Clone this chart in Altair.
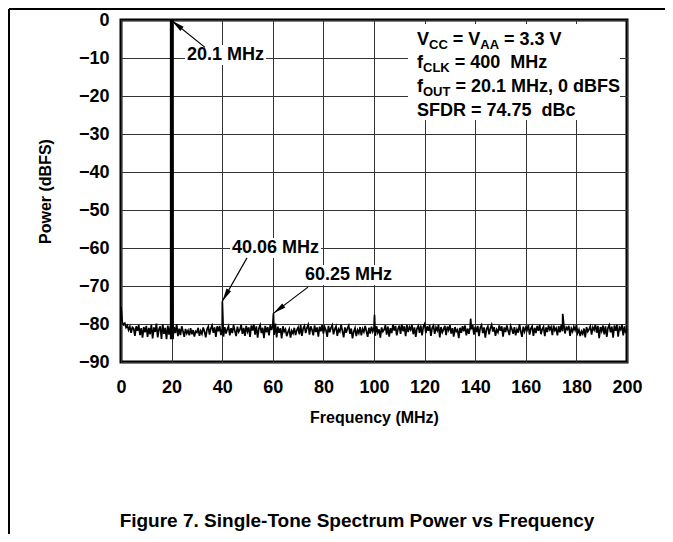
import math
import altair as alt
import pandas as pd

FONT = "Liberation Sans"

# ---------------- data ----------------
noise_step = 0.5  # MHz between noise-floor samples (0 ... 200 MHz)
noise_floor = [
    -75.5, -79.5, -80.2, -79.8, -80.9, -80.4, -81.6, -80.7, -82.3, -80.9, -81.2, -83.1, -80.6, -81.8, -80.3, -82.9, -81.1, -83.6, -80.8, -82.2,
    -80.5, -83.4, -81.0, -82.7, -80.2, -83.8, -80.9, -82.1, -79.9, -83.5, -81.4, -80.6, -83.9, -80.1, -82.6, -81.0, -84.0, -80.4, -82.8, -80.7,
    -80.3, -83.7, -80.8, -82.4, -80.0, -83.2, -81.2, -82.9, -80.6, -81.9, -83.4, -81.3, -82.5, -81.7, -83.0, -81.1, -82.7, -81.6, -83.3, -81.9,
    -82.2, -81.0, -83.1, -81.8, -82.6, -80.9, -82.0, -83.5, -81.4, -80.7, -82.8, -81.2, -80.4, -82.3, -80.9, -83.4, -80.6, -81.9, -80.5, -82.9,
    -81.2, -83.3, -80.8, -82.5, -81.4, -80.6, -83.0, -81.1, -82.4, -80.3, -81.8, -83.2, -80.7, -82.1, -81.5, -80.2, -82.6, -81.0, -83.1, -80.5,
    -82.0, -80.9, -83.4, -80.4, -81.7, -80.1, -82.8, -80.6, -83.6, -81.2, -80.3, -82.4, -81.0, -83.7, -80.5, -82.2, -80.8, -83.0, -80.2, -81.6,
    -80.4, -82.9, -79.9, -83.5, -80.7, -82.3, -81.1, -83.8, -80.6, -82.0, -81.4, -83.2, -82.1, -81.3, -83.6, -81.8, -82.5, -81.0, -82.9, -81.6,
    -80.9, -82.7, -80.3, -83.1, -81.2, -80.5, -82.4, -81.0, -80.2, -82.8, -80.6, -81.5, -83.0, -80.4, -82.1, -80.9, -83.3, -80.7, -81.9, -80.3,
    -82.5, -80.8, -81.6, -83.4, -80.5, -82.2, -81.0, -80.3, -82.7, -81.3, -80.6, -83.1, -81.4, -82.0, -80.2, -81.8, -83.5, -80.9, -82.3, -81.1,
    -80.4, -82.6, -81.2, -83.8, -82.0, -81.1, -83.2, -81.6, -82.4, -80.8, -83.0, -81.3, -82.1, -80.5, -81.9, -83.4, -81.0, -82.5, -80.7, -82.0,
    -81.0, -83.1, -80.6, -82.3, -81.4, -83.6, -80.9, -82.0, -81.5, -80.3, -82.8, -80.7, -83.3, -81.1, -82.4, -80.2, -81.7, -80.5, -83.0, -81.3,
    -80.4, -82.6, -80.1, -81.9, -80.6, -83.2, -80.3, -82.1, -80.8, -81.5, -80.2, -82.7, -80.9, -83.4, -81.2, -80.5, -82.3, -80.4, -83.0, -80.7,
    -80.0, -82.4, -80.6, -81.8, -80.3, -83.1, -81.0, -80.4, -82.6, -80.9, -81.7, -80.2, -83.5, -80.8, -82.2, -81.4, -80.5, -82.9, -80.7, -81.6,
    -80.3, -82.5, -81.1, -83.3, -80.8, -82.0, -81.5, -83.7, -81.0, -82.3, -80.6, -81.9, -80.4, -83.0, -81.2, -82.6, -80.9, -81.4, -80.3, -82.8,
    -80.7, -82.1, -80.5, -83.2, -81.0, -80.3, -82.4, -80.9, -83.6, -81.3, -80.6, -82.7, -81.1, -80.2, -82.0, -80.8, -83.1, -81.5, -82.2, -80.4,
    -81.8, -80.6, -83.3, -80.9, -82.1, -80.4, -81.7, -82.9, -80.5, -81.3, -82.6, -80.8, -83.0, -81.4, -82.3, -80.1, -81.9, -83.4, -80.7, -82.0,
    -80.9, -81.6, -80.3, -82.8, -81.2, -80.6, -83.1, -81.0, -82.4, -80.5, -81.8, -80.2, -82.7, -81.3, -80.7, -83.2, -80.9, -82.1, -80.4, -81.5,
    -80.8, -82.9, -80.4, -81.7, -81.1, -83.0, -80.6, -82.2, -80.3, -81.9, -80.1, -82.5, -80.9, -81.4, -80.5, -83.1, -81.2, -82.0, -80.7, -81.6,
    -80.3, -82.4, -81.5, -83.2, -81.9, -82.6, -81.2, -83.5, -80.8, -82.0, -81.4, -80.6, -82.8, -80.9, -81.6, -80.2, -82.3, -80.5, -83.7, -80.8,
    -81.9, -80.4, -82.7, -80.6, -83.4, -81.0, -80.3, -82.2, -80.7, -83.6, -80.4, -81.8, -80.2, -83.3, -80.9, -81.5, -80.1, -83.0, -80.6, -82.4,
    -81.3,
]
noise_freq = [i * noise_step for i in range(len(noise_floor))]

spur_freq = [20.1, 40.06, 60.25, 100.2, 138.2, 174.6]
spur_power = [0.0, -74.0, -77.2, -77.6, -78.6, -77.3]

tone_freq = [20.1]
tone_top = [0.0]
tone_bottom = [-84.0]

ann_text = ["20.1 MHz", "40.06 MHz", "60.25 MHz"]
ann_text_f = [26.1, 43.9, 72.7]
ann_text_p = [-9.2, -60.0, -67.1]
ann_tail_f = [33.2, 49.8, 73.9]
ann_tail_p = [-7.2, -62.6, -70.3]
ann_head_f = [20.1, 40.06, 60.25]
ann_head_p = [-0.2, -74.0, -77.2]

cond_lines = [
    [("V", 0), ("CC", 1), (" = V", 0), ("AA", 1), (" = 3.3 V", 0)],
    [("f", 0), ("CLK", 1), (" = 400  MHz", 0)],
    [("f", 0), ("OUT", 1), (" = 20.1 MHz, 0 dBFS", 0)],
    [("SFDR = 74.75  dBc", 0)],
]

x_ticks = list(range(0, 201, 20))
y_ticks = list(range(-90, 1, 10))
caption = "Figure 7. Single-Tone Spectrum Power vs Frequency"

# ---------------- layout ----------------
W, H = 506, 342
PX_F = 200 / W   # MHz per pixel
PX_P = 90 / H    # dB per pixel

AW = {' ': 278, '\u00a0': 278, ',': 278, '.': 278, '=': 584, 'A': 722, 'B': 722, 'C': 722,
      'D': 722, 'F': 611, 'H': 722, 'K': 722, 'L': 611, 'M': 833, 'O': 778, 'R': 722,
      'S': 667, 'T': 611, 'U': 722, 'V': 667, 'b': 611, 'c': 556, 'd': 611, 'f': 333, 'z': 500}


def tw(s, size):
    return sum(AW.get(c, 556) for c in s) * size / 1000


ANN_SIZE = 18
MAIN, SUB, SUBDROP = 18, 13, 4
TICK_SIZE = 18

xscale = alt.Scale(domain=[0, 200], nice=False, zero=False)
yscale = alt.Scale(domain=[-90, 0], nice=False, zero=False)
xaxis = alt.Axis(values=x_ticks, grid=True, gridColor="#333", gridWidth=1, ticks=False, domain=False,
                 labelFont=FONT, labelFontSize=TICK_SIZE, labelFontWeight="bold", labelColor="black",
                 labelPadding=16, labelFlush=False, labelOverlap=False,
                 title="Frequency (MHz)", titleFont=FONT, titleFontSize=16,
                 titleFontWeight="bold", titleColor="black", titlePadding=13)
yaxis = alt.Axis(values=y_ticks, grid=True, gridColor="#333", gridWidth=1, ticks=False, domain=False,
                 labelFont=FONT, labelFontSize=TICK_SIZE, labelFontWeight="bold", labelColor="black",
                 labelPadding=12, labelFlush=False, labelOverlap=False,
                 title="Power (dBFS)", titleFont=FONT, titleFontSize=16,
                 titleFontWeight="bold", titleColor="black", titlePadding=25)


def X(field):
    return alt.X(f"{field}:Q", scale=xscale, axis=xaxis)


def Y(field):
    return alt.Y(f"{field}:Q", scale=yscale, axis=yaxis)


# spectrum
spec = pd.DataFrame({"f": noise_freq + spur_freq, "p": noise_floor + spur_power}).sort_values("f")
line = alt.Chart(spec).mark_line(color="black", strokeWidth=1.7, strokeJoin="miter").encode(
    x=X("f"), y=Y("p"), order="f:Q")

tone = alt.Chart(pd.DataFrame({"f": tone_freq, "p": tone_top, "p2": tone_bottom})).mark_rule(
    color="black", strokeWidth=4).encode(x=X("f"), y=Y("p"), y2="p2:Q")

# annotations
rows = []
for t, tf, tp, af, ap, hf, hp in zip(ann_text, ann_text_f, ann_text_p, ann_tail_f, ann_tail_p,
                                      ann_head_f, ann_head_p):
    w = tw(t, ANN_SIZE)
    dx = (hf - af) / PX_F
    dy = -(hp - ap) / PX_P
    ang = math.degrees(math.atan2(dx, -dy)) % 360
    rows.append({"t": t, "f": tf, "p": tp, "bx1": tf - 2 * PX_F, "bx2": tf + (w + 2) * PX_F,
                 "by1": tp - 10 * PX_P, "by2": tp + 10 * PX_P, "af": af, "ap": ap, "hf": hf, "hp": hp,
                 "ang": ang})
ann = pd.DataFrame(rows)

ann_bg = alt.Chart(ann).mark_rect(color="white").encode(x=X("bx1"), x2="bx2:Q", y=Y("by1"), y2="by2:Q")
ann_shaft = alt.Chart(ann).mark_rule(color="black", strokeWidth=1.2).encode(
    x=X("af"), x2="hf:Q", y=Y("ap"), y2="hp:Q")
ann_head = alt.Chart(ann).mark_point(filled=True, color="black", opacity=1, size=300,
                                     shape="M0,0L-0.3,1.5L0.3,1.5Z").encode(
    x=X("hf"), y=Y("hp"), angle=alt.Angle("ang:Q", scale=None))
ann_txt = alt.Chart(ann).mark_text(align="left", baseline="middle", font=FONT, fontSize=ANN_SIZE,
                                   fontWeight="bold", color="black").encode(x=X("f"), y=Y("p"), text="t:N")

# conditions box (segments placed side by side; spaces become offsets)
box_x0, box_y0 = 296, [25, 48, 72, 96]
seg_rows = []
for line_segs, by in zip(cond_lines, box_y0):
    x = box_x0
    for s, sub in line_segs:
        size = SUB if sub else MAIN
        lead = len(s) - len(s.lstrip(" "))
        trail = len(s) - len(s.rstrip(" "))
        core = s.strip(" ")
        x += tw(" " * lead, size)
        yy = by + (SUBDROP if sub else 0)
        seg_rows.append({"t": core.replace(" ", "\u00a0"), "f": x * PX_F, "p": -yy * PX_P, "fs": size})
        x += tw(core, size) + tw(" " * trail, size)
segs = pd.DataFrame(seg_rows)

box_bg = alt.Chart(pd.DataFrame({"a": [0]})).mark_rect(color="white").encode(
    x=alt.value(287), x2=alt.value(499), y=alt.value(4), y2=alt.value(100))
box_txt = alt.Chart(segs).mark_text(align="left", baseline="alphabetic", font=FONT, fontWeight="bold",
                                    color="black").encode(
    x=X("f"), y=Y("p"), text="t:N", size=alt.Size("fs:Q", scale=None))

cap = alt.Chart(pd.DataFrame({"a": [0]})).mark_text(
    align="center", baseline="middle", font=FONT, fontSize=19, fontWeight="bold", color="black").encode(
    x=alt.value(236), y=alt.value(501), text=alt.value(caption))

frame_h = alt.Chart(pd.DataFrame({"a": [0]})).mark_rule(color="black", strokeWidth=2).encode(
    x=alt.value(-112), x2=alt.value(560), y=alt.value(-11))
frame_v = alt.Chart(pd.DataFrame({"a": [0]})).mark_rule(color="black", strokeWidth=2).encode(
    x=alt.value(-112), y=alt.value(-11), y2=alt.value(530))

chart = alt.layer(
    ann_bg, line, tone, ann_shaft, ann_head, ann_txt, box_bg, box_txt, cap, frame_h, frame_v
).properties(
    width=W, height=H, autosize="none",
    padding={"left": 113, "top": 12, "right": 38, "bottom": 172},
).configure_view(stroke="black", strokeWidth=3)

chart.save("out.html", embed_options={"renderer": "svg", "actions": False})
